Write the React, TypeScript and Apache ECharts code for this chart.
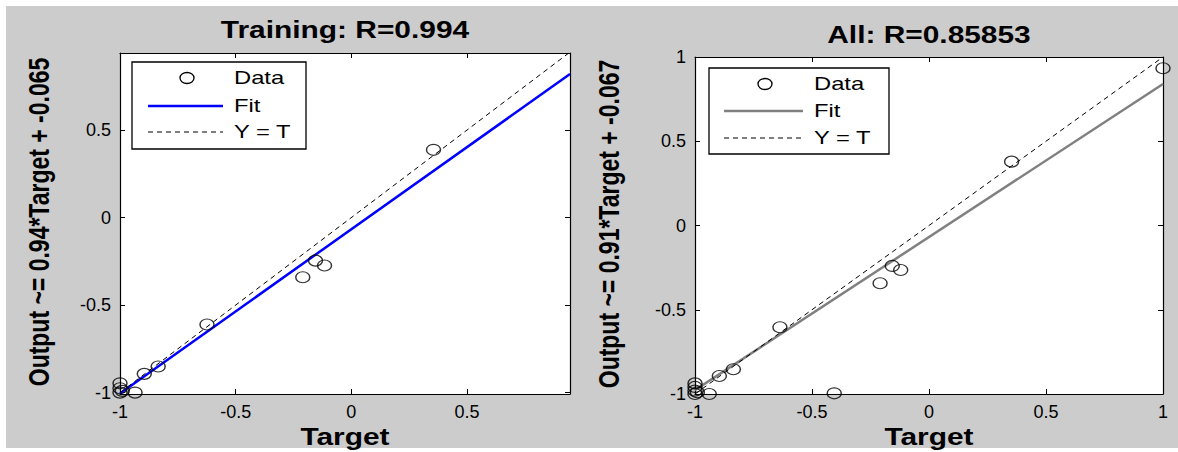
import React, { useEffect, useRef } from "react";
import * as echarts from "echarts";

const FONT = "Liberation Sans, Arial, sans-serif";

// Training panel data
const trainTarget = [0.355, -0.155, -0.116, -0.21, -0.624, -0.835, -0.895, -1, -1, -0.935, -1, -0.99];
const trainOutput = [0.387, -0.246, -0.274, -0.341, -0.611, -0.851, -0.893, -0.947, -1, -1.0, -0.975, -0.99];
const trainFit = [[-1, -1.005], [0.945, 0.82]];
const trainIdentity = [[-1, -1], [0.94, 0.94]];
const trainXRange = [-1, 0.945];
const trainYRange = [-1.008, 0.94];
const trainTicks = [-1, -0.5, 0, 0.5];

// All panel data
const allTarget = [1.0, 0.353, -0.157, -0.121, -0.209, -0.637, -0.836, -0.896, -0.405, -0.939, -1, -1, -1, -1, -0.99];
const allOutput = [0.933, 0.379, -0.24, -0.264, -0.343, -0.604, -0.853, -0.893, -0.996, -1.0, -0.937, -0.958, -0.98, -1, -0.99];
const allFit = [[-1, -0.977], [1, 0.84]];
const allIdentity = [[-1, -1], [1, 1]];
const allRange = [-1, 1];
const allTicks = [-1, -0.5, 0, 0.5, 1];

const titles = ["Training: R=0.994", "All: R=0.85853"];
const yNames = ["Output ~= 0.94*Target + -0.065", "Output ~= 0.91*Target + -0.067"];
const xName = "Target";
const legendNames = ["Data", "Fit", "Y = T"];
const fitColors = ["#0000ff", "#808080"];

const ELLIPSE = "path://M0,50 A50,50 0 1,1 100,50 A50,50 0 1,1 0,50 Z";

function axis(kind: "x" | "y", gridIndex: number, range: number[], ticks: number[], position: string, showLabel: boolean) {
  return {
    type: "value",
    gridIndex,
    position,
    min: range[0],
    max: range[1],
    axisLine: { show: true, onZero: false, lineStyle: { color: "#000", width: 1.2 } },
    axisTick: { show: true, inside: true, length: 5, customValues: ticks, lineStyle: { color: "#000", width: 1 } },
    axisLabel: {
      show: showLabel,
      customValues: ticks,
      color: "#000",
      fontFamily: FONT,
      fontSize: 18,
      margin: kind === "x" ? 9 : 9,
    },
    splitLine: { show: false },
  };
}

function pairs(xs: number[], ys: number[]) {
  return xs.map((x, i) => [x, ys[i]]);
}

function boldText(text: string, x: number, y: number, rotate = false) {
  return {
    type: "text",
    x,
    y,
    rotation: rotate ? Math.PI / 2 : 0,
    scaleX: rotate ? 1 : 1.3,
    scaleY: rotate ? 1.3 : 1,
    z: 100,
    style: {
      text,
      fill: "#000",
      fontFamily: FONT,
      fontSize: 23,
      fontWeight: "bold",
      align: "center",
      verticalAlign: "middle",
      textAlign: "center",
      textVerticalAlign: "middle",
    },
  };
}

function legendText(text: string, x: number, y: number) {
  return {
    type: "text",
    x,
    y,
    scaleX: 1.25,
    z: 101,
    style: {
      text,
      fill: "#000",
      fontFamily: FONT,
      fontSize: 19,
      align: "left",
      verticalAlign: "middle",
      textAlign: "left",
      textVerticalAlign: "middle",
    },
  };
}

function legend(box: number[], markerX: number, lineX: number[], textX: number, rowsY: number[], fitColor: string) {
  return [
    { type: "rect", z: 100, shape: { x: box[0], y: box[1], width: box[2], height: box[3] }, style: { fill: "#fff", stroke: "#000", lineWidth: 1.3 } },
    { type: "ellipse", z: 101, shape: { cx: markerX, cy: rowsY[0], rx: 7, ry: 5.5 }, style: { fill: "none", stroke: "#000", lineWidth: 1.3 } },
    { type: "line", z: 101, shape: { x1: lineX[0], y1: rowsY[1], x2: lineX[1], y2: rowsY[1] }, style: { stroke: fitColor, lineWidth: 2.5 } },
    { type: "line", z: 101, shape: { x1: lineX[0], y1: rowsY[2], x2: lineX[1], y2: rowsY[2] }, style: { stroke: "#000", lineWidth: 1, lineDash: [5, 4] } },
    legendText(legendNames[0], textX, rowsY[0]),
    legendText(legendNames[1], textX, rowsY[1]),
    legendText(legendNames[2], textX, rowsY[2]),
  ];
}

function seriesFor(idx: number, data: number[][], fit: number[][], ident: number[][]) {
  return [
    {
      type: "scatter",
      xAxisIndex: idx * 2,
      yAxisIndex: idx * 2,
      data,
      symbol: ELLIPSE,
      symbolSize: [14, 11],
      clip: false,
      itemStyle: { color: "rgba(0,0,0,0)", borderColor: "#000", borderWidth: 1.3 },
      z: 3,
    },
    {
      type: "line",
      xAxisIndex: idx * 2,
      yAxisIndex: idx * 2,
      data: fit,
      symbol: "none",
      lineStyle: { color: fitColors[idx], width: 2.5 },
      z: 2,
    },
    {
      type: "line",
      xAxisIndex: idx * 2,
      yAxisIndex: idx * 2,
      data: ident,
      symbol: "none",
      lineStyle: { color: "#000", width: 1, type: [5, 4] },
      z: 2,
    },
  ];
}

export default function App() {
  const ref = useRef<HTMLDivElement>(null);
  useEffect(() => {
    const chart = echarts.init(ref.current!, null, { renderer: "svg" });
    const option: any = {
      animation: false,
      backgroundColor: "#ffffff",
      grid: [
        { left: 120, top: 53, width: 450, height: 341, show: true, backgroundColor: "#ffffff", borderWidth: 0 },
        { left: 695, top: 57, width: 468, height: 337, show: true, backgroundColor: "#ffffff", borderWidth: 0 },
      ],
      xAxis: [
        axis("x", 0, trainXRange, trainTicks, "bottom", true),
        axis("x", 0, trainXRange, trainTicks, "top", false),
        axis("x", 1, allRange, allTicks, "bottom", true),
        axis("x", 1, allRange, allTicks, "top", false),
      ],
      yAxis: [
        axis("y", 0, trainYRange, trainTicks, "left", true),
        axis("y", 0, trainYRange, trainTicks, "right", false),
        axis("y", 1, allRange, allTicks, "left", true),
        axis("y", 1, allRange, allTicks, "right", false),
      ],
      series: [
        ...seriesFor(0, pairs(trainTarget, trainOutput), trainFit, trainIdentity),
        ...seriesFor(1, pairs(allTarget, allOutput), allFit, allIdentity),
      ],
      graphic: {
        elements: [
          { type: "rect", z: -10, shape: { x: 6, y: 6, width: 1172, height: 442 }, style: { fill: "#cccccc" } },
          boldText(titles[0], 345, 30),
          boldText(titles[1], 929, 35),
          boldText(xName, 345, 437),
          boldText(xName, 929, 437),
          boldText(yNames[0], 39, 222, true),
          boldText(yNames[1], 609, 224, true),
          ...legend([132, 62, 174, 87], 187, [148, 223], 234, [78, 106, 132], fitColors[0]),
          ...legend([709, 68, 180, 86], 765, [724, 803], 814, [84, 111, 138], fitColors[1]),
        ],
      },
    };
    chart.setOption(option);
    return () => chart.dispose();
  }, []);
  return <div ref={ref} style={{ position: "absolute", left: 0, top: 0, width: 1178, height: 452 }} />;
}
